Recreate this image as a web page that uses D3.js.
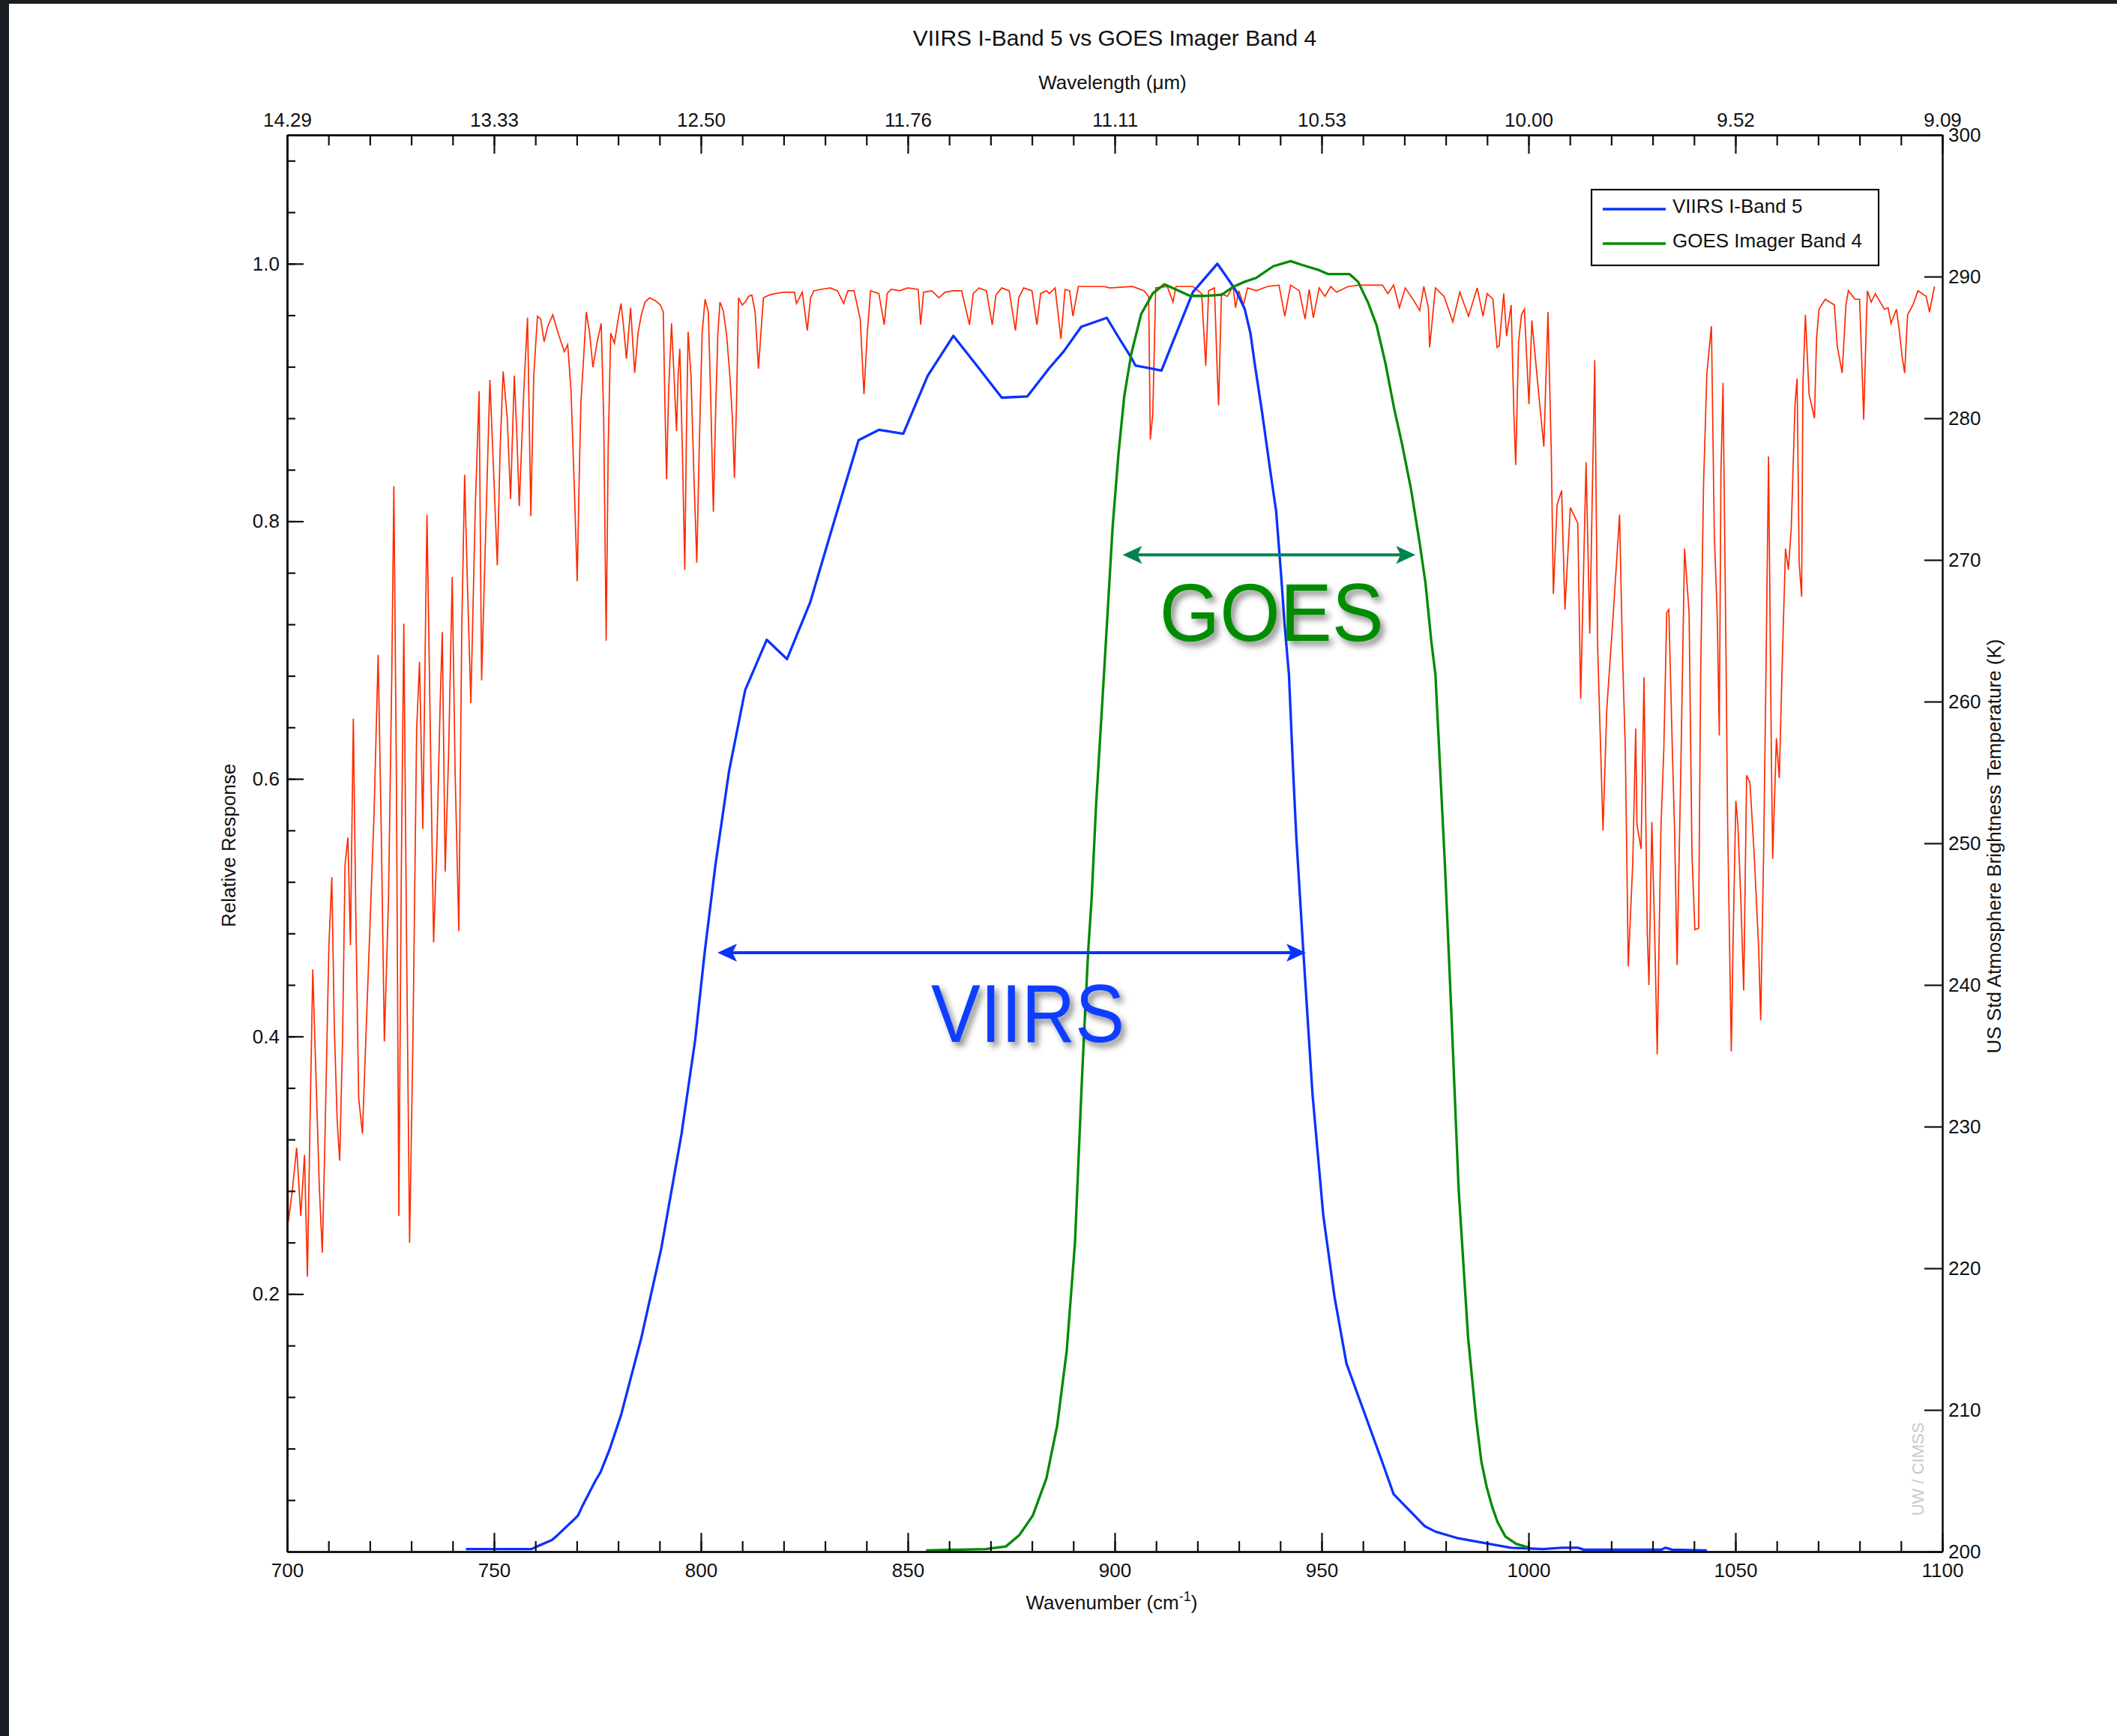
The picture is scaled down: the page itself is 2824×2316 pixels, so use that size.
<!DOCTYPE html>
<html>
<head>
<meta charset="utf-8">
<script src="https://cdn.jsdelivr.net/npm/d3@7"></script>
<style>
  body { margin: 0; background: #fff; }
  svg { display: block; font-family: "Liberation Sans", Arial, sans-serif; }
  .axis path, .axis line { stroke: #111; }
  .axis path { stroke-width: 2.6; }
  .axis line { stroke-width: 2.2; }
  .axis text { font-size: 26px; fill: #111; font-family: "Liberation Sans", Arial, sans-serif; }
</style>
</head>
<body>
<svg id="chart" width="2824" height="2316"></svg>
<script>
// ---- data (wavenumber in cm-1) ----
var viirsBand5 = [[743.2,0.002],[759.1,0.002],[760.4,0.004],[764,0.009],[765.1,0.012],[768.7,0.023],[770.3,0.028],[771.3,0.035],[772.9,0.045],[774.5,0.055],[775.8,0.062],[778,0.08],[780.7,0.106],[785.6,0.166],[790.4,0.235],[795.3,0.324],[798.6,0.397],[800.9,0.465],[803.5,0.533],[806.8,0.606],[810.7,0.669],[815.9,0.708],[820.8,0.693],[826.4,0.737],[832.2,0.8],[838.1,0.863],[843,0.871],[848.9,0.868],[854.8,0.913],[861,0.944],[866.9,0.92],[872.7,0.896],[878.9,0.897],[884.2,0.919],[887.7,0.932],[891.9,0.951],[898.1,0.958],[900.9,0.943],[904,0.927],[905,0.921],[911.3,0.917],[913.4,0.934],[918.9,0.978],[924.8,1.0],[927.2,0.989],[929.3,0.979],[931.4,0.965],[932.8,0.946],[933.8,0.923],[935.6,0.885],[937.6,0.839],[939,0.808],[940.1,0.763],[941.1,0.718],[942.1,0.681],[943.2,0.6],[943.9,0.554],[945.5,0.47],[947.8,0.355],[950.4,0.261],[953.1,0.198],[956,0.146],[960.2,0.109],[964.6,0.07],[967.4,0.0446],[974.9,0.0198],[977.5,0.0155],[982.7,0.0106],[989.2,0.0068],[995.7,0.003],[1003.5,0.002],[1008.1,0.003],[1012,0.003],[1013.3,0.0015],[1032.1,0.0015],[1033.1,0.003],[1034.7,0.0015],[1043.1,0.001]];

var goesBand4 = [[854.4,0.001],[868.8,0.002],[873.7,0.004],[877,0.013],[880.2,0.028],[883.5,0.057],[886.1,0.098],[888.4,0.156],[890.4,0.24],[892,0.361],[892.7,0.409],[893.6,0.467],[894.4,0.506],[895.5,0.58],[897.4,0.681],[898.5,0.741],[899.5,0.796],[900.9,0.852],[902.3,0.897],[904,0.93],[906.4,0.961],[909.2,0.977],[912,0.984],[914.8,0.98],[918.2,0.975],[921.7,0.975],[925.9,0.976],[928.6,0.982],[931.4,0.986],[934.2,0.989],[938.3,0.998],[942.5,1.002],[945.3,0.999],[949.4,0.995],[951.5,0.992],[956.7,0.992],[958.8,0.986],[961.2,0.97],[963.3,0.952],[965.4,0.923],[967.5,0.888],[969.5,0.859],[971.6,0.825],[973.7,0.783],[975.1,0.752],[976.5,0.707],[977.5,0.681],[979.8,0.533],[981.5,0.407],[983.1,0.282],[985.4,0.166],[987.3,0.104],[988.6,0.07],[989.9,0.05],[991.2,0.035],[992.5,0.023],[994.4,0.0117],[997,0.006],[1000.3,0.003]];

// US standard atmosphere brightness temperature (K), split by spectral region
var tbCO2Wing = [[700,232.3],[700.3,223.3],[701.3,225.6],[702.3,228.5],[703.3,223.7],[704.2,228],[704.9,219.4],[705.6,231.4],[706.2,241.1],[706.9,234.2],[707.8,225.6],[708.5,221.1],[709.1,228.5],[710.1,242.8],[710.8,247.6],[711.4,237.1],[712.1,230.4],[712.7,227.6],[713.4,236.1],[714,248.5],[714.7,250.4],[715.3,242.8],[716,258.8],[716.6,245],[717.3,232],[718.2,229.5],[719,236],[720,244],[721,252],[722,263.3],[722.8,250],[723.5,236],[724.5,246],[725.3,262],[725.8,275.2],[726.4,255],[727,223.7],[727.6,248],[728.2,265.5],[728.9,242],[729.6,221.8],[730.4,236],[731.3,258],[732,262.8],[732.8,251],[733.8,273.2],[734.6,258],[735.4,243],[736.2,250],[737,260],[737.5,264.9],[738.2,248],[739,256],[739.9,268.8],[740.6,255],[741.5,243.8],[742.2,265],[742.9,276],[743.6,268],[744.4,259.9],[745.5,274],[746.4,281.9],[747,261.5],[747.8,270],[749,282.7],[749.8,277],[750.8,269.6],[751.5,278],[752.2,283.3],[753.2,280],[754,274.3],[754.9,283],[755.5,279],[756.1,273.8],[757.2,282],[758.1,287.1],[758.9,273.1],[759.6,283],[760.5,287.2],[761.3,287],[762.1,285.4],[763,286.5],[764.2,287.3],[765.5,286],[767,284.7],[767.8,285.2],[768.6,282],[769.4,275.2],[770.1,268.5],[770.6,276],[771,281.1],[771.6,284],[772.3,287.5],[773.1,286],[773.9,283.6],[775,285.5],[775.9,286.7],[776.5,280],[777.1,264.3],[777.6,278],[778.2,286],[779.1,285.3],[780,287],[780.7,288.1],[781.3,286.5],[782,284.2],[782.5,286],[783,287.8],[783.5,285.5],[784,283.2],[784.8,286],[785.6,287.3],[786.5,288.2],[787.6,288.5],[789,288.3],[790.2,288],[790.9,287.5],[791.3,281],[791.7,275.7],[792.2,282],[792.9,286.7],[793.5,283],[794.1,279.1],[794.5,283],[794.9,284.9],[795.5,278],[796.1,269.3],[796.5,279],[796.9,286.1],[797.6,283],[798.3,276],[799,269.8],[799.6,278],[800.3,286],[801,288.4],[801.8,287.5],[802.4,281],[803,273.4],[803.6,281],[804.1,286],[804.6,288.2],[805.4,287.6],[806.2,285.9],[807,283],[807.6,280],[808.1,275.8],[808.6,281],[809.1,288.5],[810,288],[810.7,288.2],[811.5,288.6],[812.3,288.7],[813.1,287.5],[813.9,283.5],[814.5,286],[815.1,288.5],[816.5,288.7],[818,288.8],[820,288.9],[822.6,288.9]];

var tbWindow = [[823.1,288.1],[824.5,288.9],[825.7,286.2],[826.5,288.5],[827.3,289],[829,289.1],[831.3,289.2],[833,289],[834.5,288.1],[835.5,289],[837,289],[838.5,287],[839.4,281.7],[840.2,286],[841,289],[843,288.8],[844.3,286.6],[845,288.8],[846,289.1],[848,289],[850,289.2],[852.5,289.1],[853.1,286.6],[853.8,288.9],[855.8,289],[857.5,288.5],[859,288.9],[861,289],[863,289],[864.9,286.6],[865.8,288.8],[867.2,289.2],[869,289],[870.4,286.6],[871.3,288.7],[872.7,289.2],[874.5,289],[876,286.2],[876.8,288.5],[878,289.2],[880,289],[881.2,286.6],[882.1,288.8],[883.5,289],[884.2,288.8],[885.6,289.2],[887,285.6],[888,289.1],[889.1,289],[889.9,287.2],[891.2,289.3],[897.4,289.3],[898.8,289.2],[904.3,289.3],[907.1,289],[908.2,288.6],[908.6,278.5],[909.2,280.3],[909.9,289.2],[912.7,289.3],[914.1,288.2],[914.8,289.3],[918.9,289.3],[921,288.8],[922,283.7],[922.7,289],[924.1,289.2],[924.8,283.1],[925.1,280.9],[925.8,288.8],[927.2,288.6],[928.6,289.3],[929.2,287.8],[930,289],[931.1,288],[932.1,289.2],[934.2,289],[936.9,289.3],[939.7,289.4],[941.1,287.2],[942.5,289.4],[944.6,289],[946,287],[947,289.1],[948,287.1],[949.4,289.2],[950.8,288.6],[952.2,289.3],[953.6,288.9],[956.4,289.3],[959.1,289.4],[964.7,289.4],[966,288.8],[967.4,289.4],[968.8,287.8],[970.2,289.2],[972.3,288.3],[973.7,287.6],[974.7,289.3],[975.8,287.8],[976.1,285],[977.5,289.2],[979.6,288.6],[981.7,286.8],[983.4,288.9],[985.5,287.2],[987.6,289.2],[989,287.2],[990,288.8],[991.4,288.4],[992.4,285]];

var tbOzone = [[992.9,285.1],[994,288.8],[994.7,285.8],[995.8,288],[996.5,279.9],[996.9,276.7],[997.6,285.4],[998.3,287.3],[999,287.7],[1000.1,281],[1000.8,286.9],[1002.6,281.3],[1003.7,278],[1004.7,287.5],[1005.5,277.5],[1006,267.6],[1006.9,273.9],[1008,274.9],[1008.8,266.5],[1010.1,273.7],[1011.9,272.6],[1012.6,260.2],[1013.9,276.9],[1014.8,264.8],[1016,284.1],[1016.7,263.9],[1018,250.9],[1018.9,259.4],[1020.5,266.3],[1022,273.2],[1022.7,263.5],[1023.4,256.5],[1024.1,241.3],[1025.2,248.7],[1025.9,258.1],[1026.2,251.3],[1027.2,249.6],[1027.9,261.7],[1028.7,243.7],[1029.1,240],[1029.8,251.5],[1030.5,243.5],[1031.1,235.1],[1032,251.1],[1032.7,256.7],[1033.4,266.3],[1033.9,266.5],[1034.8,256.1],[1035.3,250.9],[1035.9,241.4],[1036.8,255.2],[1037.7,270.8],[1038.8,266.3],[1039.5,249.2],[1040.2,243.9],[1041.1,244],[1041.6,262],[1042.3,275.4],[1043.1,283.2],[1044.2,286.5],[1044.9,271.7],[1045.6,266.1],[1046.1,257.6],[1046.5,276.2],[1047,282.5],[1047.7,263.9],[1048.1,251.7],[1049,235.3],[1049.5,244.2],[1050.1,253],[1050.6,251.3],[1051.3,246.1],[1052,239.6],[1052.7,254.8],[1053.5,254.3],[1054.5,249.4],[1055.6,242.7],[1056.1,237.5],[1056.8,249.1],[1057.3,260.2],[1058,277.3],[1058.7,255.9],[1059,248.9],[1059.9,257.4],[1060.6,254.6],[1061.3,262.6],[1062.1,270.8],[1062.8,269.3],[1063.5,272.3],[1064.4,281],[1064.9,282.8],[1065.4,269.8],[1066,267.4],[1066.3,282.3],[1066.9,287.3],[1067.8,281.7],[1069.1,280],[1069.6,285.6],[1070.2,287.7],[1071.7,288.4],[1073.9,288],[1074.6,285.1],[1075.8,283.2],[1076.7,288],[1077.3,289],[1078.9,288.4],[1080,288.4],[1080.5,284.3],[1081,279.9],[1081.6,286.5],[1081.9,289],[1082.8,288.2],[1083.8,288.8],[1086,287.7],[1086.9,287.8],[1087.6,286.7],[1088.9,287.7],[1089.6,286.2],[1090.3,284.3],[1090.9,283.2],[1091.6,287.3],[1092.9,288],[1094.1,289],[1096.1,288.6],[1096.9,287.5],[1098.1,289.3]];

var bottomMajor = d3.range(700, 1101, 50);
var bottomMinor = d3.range(700, 1101, 10);
var leftMajor = [0.2, 0.4, 0.6, 0.8, 1.0];
var leftMinor = d3.range(1, 28).map(function(i){ return i * 0.04; });
var rightMajor = d3.range(200, 301, 10);

var seriesNames = ["VIIRS I-Band 5", "GOES Imager Band 4"];
var seriesColors = ["#0a32ff", "#008a00"];

// band-width annotations: arrow from/to wavenumber at a response level
var annotations = [
    {label: "GOES", from: 901.9, to: 972.7, level: 0.774, textAt: 937.9, textLevel: 0.707, textWidth: 299, color: "#008c00", arrowColor: "#00844e"},
    {label: "VIIRS", from: 804.0, to: 946.2, level: 0.465, textAt: 879.0, textLevel: 0.396, textWidth: 258, color: "#0a3cff", arrowColor: "#0a32ff"}
];

// ---- layout ----
var svg = d3.select("#chart");
var plot = {left: 383, right: 2591, top: 180, bottom: 2070};

svg.append("rect").attr("width", 2824).attr("height", 2316).attr("fill", "#fff");
// dark frame edge from the original screenshot
svg.append("rect").attr("x", 0).attr("y", 0).attr("width", 2824).attr("height", 5).attr("fill", "#1a1e23");
svg.append("rect").attr("x", 0).attr("y", 0).attr("width", 12).attr("height", 2316).attr("fill", "#1a1e23");

var x = d3.scaleLinear().domain([700, 1100]).range([plot.left, plot.right]);
var yResp = d3.scaleLinear().domain([0, 1.1]).range([plot.bottom, plot.top]);
var yTemp = d3.scaleLinear().domain([200, 300]).range([plot.bottom, plot.top]);

var defs = svg.append("defs");
var shadow = defs.append("filter").attr("id", "shadow")
    .attr("x", "-20%").attr("y", "-20%").attr("width", "140%").attr("height", "150%");
shadow.append("feDropShadow").attr("dx", 5).attr("dy", 6).attr("stdDeviation", 4)
    .attr("flood-color", "#000").attr("flood-opacity", 0.45);

// ---- curves ----
var lineTb = d3.line().x(function(d){ return x(d[0]); }).y(function(d){ return yTemp(d[1]); });
var lineResp = d3.line().x(function(d){ return x(d[0]); }).y(function(d){ return yResp(d[1]); });

svg.append("path")
    .datum(tbCO2Wing.concat(tbWindow, tbOzone))
    .attr("d", lineTb)
    .attr("fill", "none")
    .attr("stroke", "#ff2a00")
    .attr("stroke-width", 1.7);

[viirsBand5, goesBand4].forEach(function(series, i){
    svg.append("path")
        .datum(series)
        .attr("d", lineResp)
        .attr("fill", "none")
        .attr("stroke", seriesColors[i])
        .attr("stroke-width", 3.3)
        .attr("stroke-linejoin", "round");
});

// ---- axes ----
var gBottom = svg.append("g").attr("class", "axis").attr("transform", "translate(0," + plot.bottom + ")");
gBottom.call(d3.axisBottom(x).tickValues(bottomMinor).tickSize(-14).tickSizeOuter(0).tickFormat(""));
gBottom.append("g").call(d3.axisBottom(x).tickValues(bottomMajor).tickSize(-25).tickSizeOuter(0).tickPadding(16).tickFormat(d3.format("d")));

var gTop = svg.append("g").attr("class", "axis").attr("transform", "translate(0," + plot.top + ")");
gTop.call(d3.axisTop(x).tickValues(bottomMinor).tickSize(-14).tickSizeOuter(0).tickFormat(""));
gTop.append("g").call(d3.axisTop(x).tickValues(bottomMajor).tickSize(-25).tickSizeOuter(0).tickPadding(11)
    .tickFormat(function(d){ return (10000 / d).toFixed(2); }));

var gLeft = svg.append("g").attr("class", "axis").attr("transform", "translate(" + plot.left + ",0)");
gLeft.call(d3.axisLeft(yResp).tickValues(leftMinor).tickSize(-11).tickSizeOuter(0).tickFormat(""));
gLeft.append("g").call(d3.axisLeft(yResp).tickValues(leftMajor).tickSize(-22).tickSizeOuter(0).tickPadding(10).tickFormat(d3.format(".1f")));

var gRight = svg.append("g").attr("class", "axis").attr("transform", "translate(" + plot.right + ",0)");
gRight.call(d3.axisRight(yTemp).tickValues(rightMajor).tickSize(-24).tickSizeOuter(0).tickPadding(8).tickFormat(d3.format("d")));

svg.selectAll(".axis .domain").attr("stroke", "#111");

// ---- titles ----
var midX = (plot.left + plot.right) / 2;
svg.append("text").attr("x", midX).attr("y", 61).attr("text-anchor", "middle")
    .attr("font-size", 30).attr("fill", "#111").text("VIIRS I-Band 5 vs GOES Imager Band 4");
svg.append("text").attr("x", midX - 3).attr("y", 119).attr("text-anchor", "middle")
    .attr("font-size", 26).attr("fill", "#111").text("Wavelength (\u03bcm)");
var xt = svg.append("text").attr("x", midX - 4).attr("y", 2147).attr("text-anchor", "middle")
    .attr("font-size", 26).attr("fill", "#111");
xt.append("tspan").text("Wavenumber (cm");
xt.append("tspan").attr("font-size", 18).attr("dy", -11).text("-1");
xt.append("tspan").attr("dy", 11).text(")");

svg.append("text").attr("transform", "translate(314,1128) rotate(-90)").attr("text-anchor", "middle")
    .attr("font-size", 26).attr("fill", "#111").text("Relative Response");
svg.append("text").attr("transform", "translate(2669,1129) rotate(-90)").attr("text-anchor", "middle")
    .attr("font-size", 26).attr("fill", "#111").text("US Std Atmosphere Brightness Temperature (K)");
svg.append("text").attr("transform", "translate(2566,1960) rotate(-90)").attr("text-anchor", "middle")
    .attr("font-size", 22).attr("fill", "#c8c8c8").text("UW / CIMSS");

// ---- legend ----
var legend = svg.append("g").attr("transform", "translate(2123,253)");
legend.append("rect").attr("width", 383).attr("height", 101)
    .attr("fill", "#fff").attr("stroke", "#111").attr("stroke-width", 2.2);
seriesNames.forEach(function(name, i){
    var ly = 26 + i * 46;
    legend.append("line").attr("x1", 15).attr("x2", 99).attr("y1", ly).attr("y2", ly)
        .attr("stroke", seriesColors[i]).attr("stroke-width", 3.3);
    legend.append("text").attr("x", 108).attr("y", ly + 5).attr("font-size", 26).attr("fill", "#111").text(name);
});

// ---- annotations ----
annotations.forEach(function(a){
    var y = yResp(a.level), x1 = x(a.from), x2 = x(a.to);
    svg.append("line").attr("x1", x1 + 10).attr("x2", x2 - 10).attr("y1", y).attr("y2", y)
        .attr("stroke", a.arrowColor).attr("stroke-width", 4);
    [[x1, 1], [x2, -1]].forEach(function(tip){
        var tx = tip[0], s = tip[1];
        var p = "M" + tx + "," + y +
            "L" + (tx + s * 26) + "," + (y - 12) +
            "L" + (tx + s * 20) + "," + y +
            "L" + (tx + s * 26) + "," + (y + 12) + "Z";
        svg.append("path").attr("d", p).attr("fill", a.arrowColor);
    });
    svg.append("text")
        .attr("x", x(a.textAt)).attr("y", yResp(a.textLevel))
        .attr("text-anchor", "middle")
        .attr("font-size", 110)
        .attr("textLength", a.textWidth).attr("lengthAdjust", "spacingAndGlyphs")
        .attr("fill", a.color)
        .attr("filter", "url(#shadow)")
        .text(a.label);
});
</script>
</body>
</html>
